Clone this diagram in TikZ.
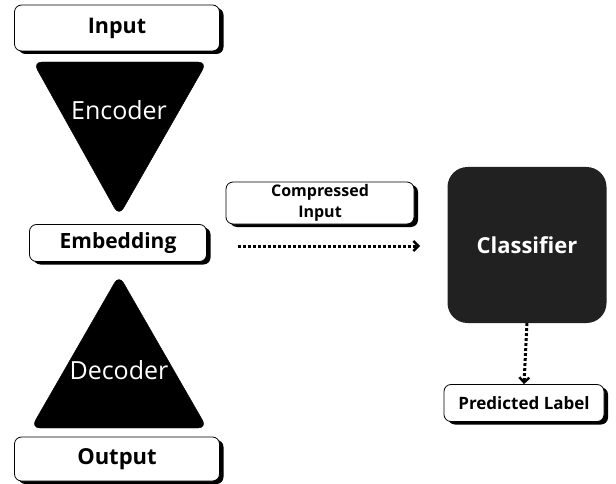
\documentclass[tikz,border=0pt]{standalone}
\usepackage{fontspec}
\setmainfont{Open Sans}
\usetikzlibrary{arrows.meta, shadows}

\tikzset{
  labelbox/.style={draw=black, line width=0.8pt, fill=white, rounded corners=7pt,
    drop shadow={shadow xshift=4pt, shadow yshift=-3pt, fill=black, opacity=1},
    font=\bfseries, align=center, inner sep=0pt},
  dotarrow/.style={line width=3pt, dash pattern=on 2.8pt off 2.2pt,
    -{Straight Barb[length=5pt, width=10pt, line width=2.4pt]}}
}

\begin{document}
\begin{tikzpicture}[x=1pt, y=-1pt]
            \useasboundingbox (0,0) rectangle (616,484);
            % Autoencoder stack
            \node[labelbox, minimum width=205pt, minimum height=46pt, font=\bfseries\fontsize{21.5}{24}\selectfont] (input) at (117,28) {Input};
            \filldraw[black, rounded corners=9pt] (33,62) -- (207,62) -- (119,216) -- cycle;
            \node[white, font=\fontsize{25}{28}\selectfont] (encoder) at (119,110) {Encoder};
            \node[labelbox, minimum width=177pt, minimum height=37pt, font=\bfseries\fontsize{21}{24}\selectfont] (embed) at (118,243) {Embedding};
            \filldraw[black, rounded corners=9pt] (119,275) -- (207,428) -- (31,428) -- cycle;
            \node[white, font=\fontsize{25}{28}\selectfont] (decoder) at (119,370) {Decoder};
            \node[labelbox, minimum width=205pt, minimum height=44pt, font=\bfseries\fontsize{22}{24}\selectfont] (output) at (117,459) {Output};
            % Classifier branch
            \node[labelbox, minimum width=188pt, minimum height=42pt, font=\bfseries\fontsize{16}{21}\selectfont] (compressed) at (320,203) {Compressed\\Input};
            \coordinate (arrowstart) at (238,246);
            \node[fill=black!87, rounded corners=20pt, minimum width=159pt, minimum height=156pt, text=white, font=\bfseries\fontsize{22}{26}\selectfont] (classifier) at (527,245) {Classifier};
            \node[labelbox, minimum width=160pt, minimum height=37pt, font=\bfseries\fontsize{17}{20}\selectfont] (predicted) at (524,403) {Predicted Label};
            \draw[dotarrow] (arrowstart) -- ++(182,0) coordinate (arrowend);
            \draw[dotarrow] (classifier.south) -- (predicted.north);
        \end{tikzpicture}
\end{document}
